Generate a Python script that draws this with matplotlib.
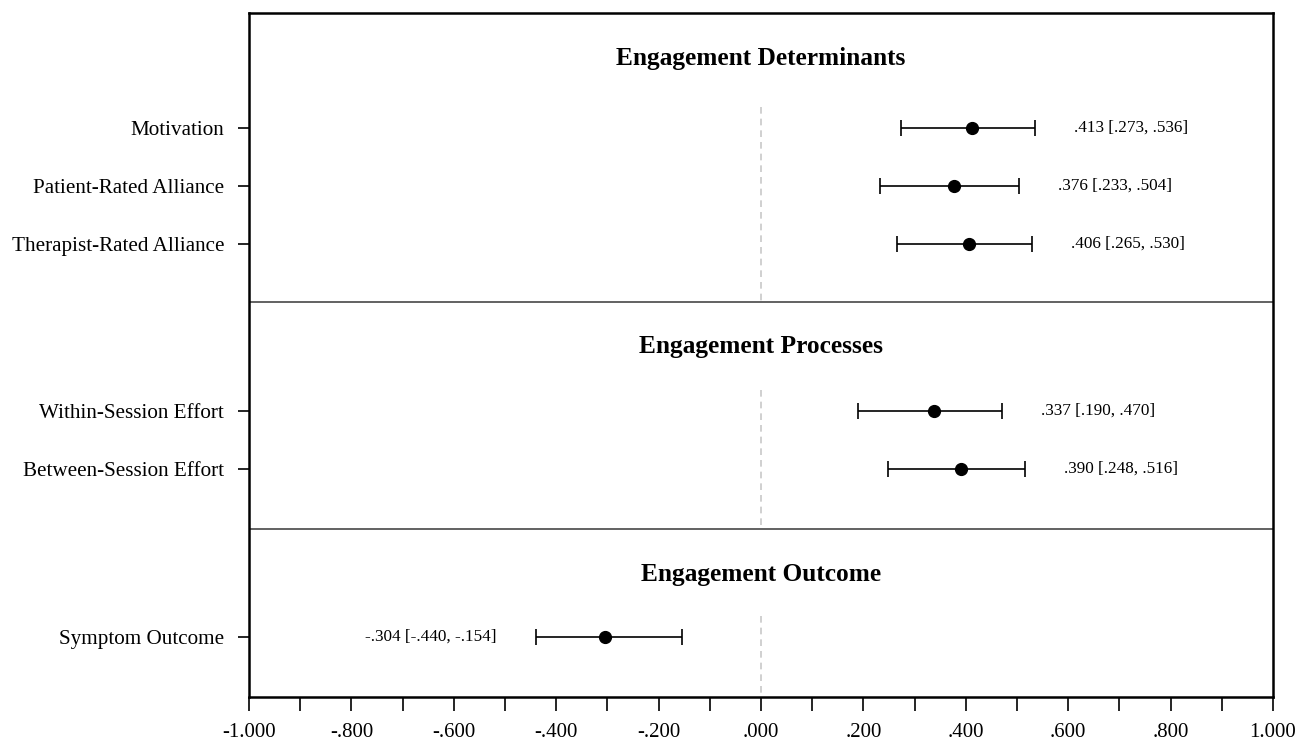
import matplotlib
matplotlib.use("Agg")
import matplotlib.pyplot as plt
from matplotlib.ticker import MultipleLocator, FuncFormatter

plt.rcParams['font.family'] = ['Liberation Serif', 'DejaVu Serif']

# Data
labels = ["Motivation", "Patient-Rated Alliance", "Therapist-Rated Alliance",
          "Within-Session Effort", "Between-Session Effort", "Symptom Outcome"]
estimates = [0.413, 0.376, 0.406, 0.337, 0.390, -0.304]
lower = [0.273, 0.233, 0.265, 0.190, 0.248, -0.440]
upper = [0.536, 0.504, 0.530, 0.470, 0.516, -0.154]
sections = ["Engagement Determinants", "Engagement Processes", "Engagement Outcome"]
section_of = [0, 0, 0, 1, 1, 2]

# Layout (row units, top = 0)
y_pos = [1.98, 2.98, 3.98, 6.86, 7.86, 10.76]
header_y = [0.79, 5.76, 9.69]
sep_y = [4.98, 8.9]
block_bounds = [(0.0, 4.98), (4.98, 8.9), (8.9, 11.8)]
y_bottom = 11.8

def fmt(v):
    s = f"{v:.3f}"
    if s.startswith("0"):
        s = s[1:]
    elif s.startswith("-0"):
        s = "-" + s[2:]
    return s

fig = plt.figure(figsize=(13.11, 7.46), dpi=100)
ax = fig.add_axes([0.19, 0.0657, 0.781, 0.917])
ax.set_xlim(-1, 1)
ax.set_ylim(y_bottom, 0)

# dashed zero lines in each block
for b in range(3):
    first = min(y_pos[i] for i in range(len(y_pos)) if section_of[i] == b)
    ax.plot([0, 0], [first - 0.36, block_bounds[b][1]], color="#c8c8c8",
            linestyle=(0, (4, 3)), linewidth=1.2, zorder=1)

for s in sep_y:
    ax.axhline(s, color="#555555", linewidth=1.3, zorder=2)

for b, name in enumerate(sections):
    ax.text(0, header_y[b], name, ha="center", va="center",
            fontsize=18.3, fontweight="bold")

for i in range(len(labels)):
    e, lo, hi = estimates[i], lower[i], upper[i]
    ax.errorbar([e], [y_pos[i]], xerr=[[e - lo], [hi - e]], fmt="o",
                color="black", markersize=8.5, capsize=6, elinewidth=1.2,
                capthick=1.2, zorder=3)
    txt = f"{fmt(e)} [{fmt(lo)}, {fmt(hi)}]"
    if e >= 0:
        ax.annotate(txt, (hi, y_pos[i]), xytext=(28, 0), textcoords="offset points",
                    ha="left", va="center", fontsize=12.3)
    else:
        ax.annotate(txt, (lo, y_pos[i]), xytext=(-28, 0), textcoords="offset points",
                    ha="right", va="center", fontsize=12.3)

ax.set_yticks(y_pos)
ax.set_yticklabels(labels, fontsize=15.2)
ax.tick_params(axis="y", length=8, width=1.2, pad=10)

ax.xaxis.set_major_locator(MultipleLocator(0.2))
ax.xaxis.set_minor_locator(MultipleLocator(0.1))
ax.xaxis.set_major_formatter(FuncFormatter(lambda v, p: fmt(round(v, 3)) if abs(v) > 1e-9 else ".000"))
ax.tick_params(axis="x", which="both", length=10, width=1.2, labelsize=15, pad=9)

for sp in ax.spines.values():
    sp.set_linewidth(1.8)

fig.savefig("out.png", dpi=100)
